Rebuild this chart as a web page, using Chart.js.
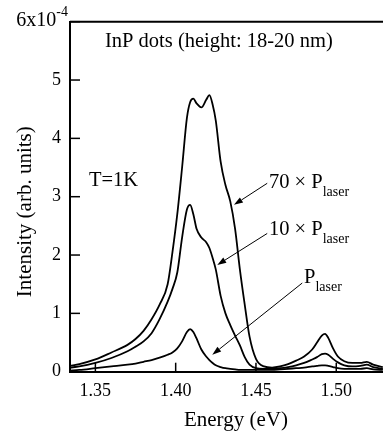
<!DOCTYPE html>
<html>
<head>
<meta charset="utf-8">
<script src="https://cdn.jsdelivr.net/npm/chart.js@4.4.0/dist/chart.umd.min.js"></script>
<style>
  html, body { margin: 0; padding: 0; background: #fff; }
</style>
</head>
<body>
<canvas id="plChart" width="383" height="434"></canvas>
<script>
// Photon energy (eV)
const energy = [1.3342, 1.34, 1.35, 1.36, 1.37, 1.375, 1.38, 1.385, 1.39, 1.395,
    1.398, 1.401, 1.404, 1.407, 1.409, 1.411, 1.413, 1.416, 1.419, 1.421,
    1.423, 1.425, 1.428, 1.431, 1.434, 1.437, 1.44, 1.443, 1.446, 1.45,
    1.455, 1.46, 1.465, 1.47, 1.475, 1.48, 1.485, 1.488, 1.491, 1.493,
    1.495, 1.498, 1.501, 1.505, 1.51, 1.515, 1.519, 1.523, 1.529];

// PL intensity in units of 1e-4
const intensity70x = [0.10, 0.13, 0.21, 0.33, 0.46, 0.56, 0.70, 0.90, 1.15, 1.50,
    2.05, 2.70, 3.50, 4.35, 4.62, 4.68, 4.60, 4.53, 4.66, 4.74,
    4.58, 4.30, 3.60, 3.20, 2.92, 2.45, 1.75, 1.15, 0.60, 0.22,
    0.09, 0.07, 0.09, 0.13, 0.19, 0.26, 0.38, 0.50, 0.62, 0.65,
    0.58, 0.40, 0.26, 0.18, 0.15, 0.15, 0.17, 0.12, 0.08];
const intensity10x = [0.07, 0.09, 0.15, 0.235, 0.35, 0.43, 0.52, 0.66, 0.90, 1.20,
    1.42, 1.70, 2.30, 2.78, 2.86, 2.70, 2.45, 2.30, 2.22, 2.12,
    1.95, 1.75, 1.30, 1.00, 0.80, 0.62, 0.45, 0.25, 0.12, 0.06,
    0.05, 0.05, 0.06, 0.08, 0.11, 0.15, 0.21, 0.25, 0.30, 0.31,
    0.29, 0.22, 0.16, 0.11, 0.09, 0.10, 0.12, 0.08, 0.05];
const intensity1x = [0.02, 0.03, 0.06, 0.09, 0.12, 0.14, 0.17, 0.20, 0.24, 0.29,
    0.33, 0.40, 0.52, 0.68, 0.73, 0.68, 0.57, 0.38, 0.26, 0.20,
    0.15, 0.11, 0.08, 0.06, 0.05, 0.04, 0.03, 0.03, 0.03, 0.03,
    0.03, 0.03, 0.04, 0.05, 0.06, 0.07, 0.09, 0.10, 0.11, 0.11,
    0.10, 0.08, 0.06, 0.05, 0.05, 0.05, 0.06, 0.04, 0.03];

// Axis ticks
const xTickValues = [1.35, 1.40, 1.45, 1.50];
const yTickValues = [0, 1, 2, 3, 4, 5, 6];

// Text labels and arrows, placed in data coordinates
const labels = [
    { e: 1.3560, v: 5.57, text: 'InP dots (height: 18-20 nm)' },
    { e: 1.3460, v: 3.19, text: 'T=1K' },
    { e: 1.4581, v: 3.15, text: '70 \u00d7 P', sub: 'laser' },
    { e: 1.4581, v: 2.35, text: '10 \u00d7 P', sub: 'laser' },
    { e: 1.4799, v: 1.52, text: 'P', sub: 'laser' }
];
const arrows = [
    { from: [1.4570, 3.23], to: [1.4363, 2.86] },
    { from: [1.4570, 2.37], to: [1.4259, 1.83] },
    { from: [1.4788, 1.52], to: [1.4228, 0.29] }
];

const serif = '"Liberation Serif", "Times New Roman", serif';

function points(values) {
    return energy.map((e, i) => ({ x: e, y: values[i] }));
}

function drawArrow(ctx, x1, y1, x2, y2) {
    const ang = Math.atan2(y2 - y1, x2 - x1);
    const len = 9, half = 3;
    ctx.lineWidth = 1;
    ctx.beginPath();
    ctx.moveTo(x1, y1);
    ctx.lineTo(x2 - Math.cos(ang) * len, y2 - Math.sin(ang) * len);
    ctx.stroke();
    ctx.beginPath();
    ctx.moveTo(x2, y2);
    ctx.lineTo(x2 - Math.cos(ang) * len - Math.sin(ang) * half, y2 - Math.sin(ang) * len + Math.cos(ang) * half);
    ctx.lineTo(x2 - Math.cos(ang) * len + Math.sin(ang) * half, y2 - Math.sin(ang) * len - Math.cos(ang) * half);
    ctx.closePath();
    ctx.fill();
}

// Frame, inward ticks, annotations and axis titles
const decorations = {
    id: 'decorations',
    afterDraw(chart) {
        const ctx = chart.ctx;
        const xs = chart.scales.x, ys = chart.scales.y;
        const area = chart.chartArea;
        ctx.save();
        ctx.strokeStyle = '#000';
        ctx.fillStyle = '#000';

        ctx.lineWidth = 2;
        ctx.beginPath();
        ctx.moveTo(area.left, area.top);
        ctx.lineTo(area.right, area.top);
        ctx.stroke();

        ctx.lineWidth = 1.5;
        yTickValues.forEach(v => {
            const py = ys.getPixelForValue(v);
            ctx.beginPath();
            ctx.moveTo(area.left, py);
            ctx.lineTo(area.left + 10, py);
            ctx.stroke();
        });
        xTickValues.forEach(v => {
            const px = xs.getPixelForValue(v);
            ctx.beginPath();
            ctx.moveTo(px, area.bottom);
            ctx.lineTo(px, area.bottom - 9);
            ctx.stroke();
        });

        // top tick label 6x10^-4
        ctx.textBaseline = 'alphabetic';
        ctx.textAlign = 'left';
        ctx.font = '20px ' + serif;
        const base = '6x10';
        const wBase = ctx.measureText(base).width;
        ctx.font = '14px ' + serif;
        const wExp = ctx.measureText('-4').width;
        const right = area.left - 2;
        const topY = ys.getPixelForValue(6);
        ctx.font = '20px ' + serif;
        ctx.fillText(base, right - wExp - wBase, topY + 4);
        ctx.font = '14px ' + serif;
        ctx.fillText('-4', right - wExp, topY - 6);

        labels.forEach(l => {
            const px = xs.getPixelForValue(l.e);
            const py = ys.getPixelForValue(l.v);
            ctx.font = '20.5px ' + serif;
            ctx.fillText(l.text, px, py);
            if (l.sub) {
                const w = ctx.measureText(l.text).width;
                ctx.font = '14px ' + serif;
                ctx.fillText(l.sub, px + w, py + 8);
            }
        });

        arrows.forEach(a => {
            drawArrow(ctx,
                xs.getPixelForValue(a.from[0]), ys.getPixelForValue(a.from[1]),
                xs.getPixelForValue(a.to[0]), ys.getPixelForValue(a.to[1]));
        });

        // axis titles
        ctx.font = '21px ' + serif;
        ctx.textAlign = 'center';
        ctx.textBaseline = 'middle';
        ctx.fillText('Energy (eV)', xs.getPixelForValue(1.4375), area.bottom + 49);
        ctx.translate(25, (area.top + area.bottom) / 2 + 15);
        ctx.rotate(-Math.PI / 2);
        ctx.fillText('Intensity (arb. units)', 0, 0);
        ctx.restore();
    }
};

document.addEventListener('DOMContentLoaded', function() {
    Chart.defaults.font.family = serif;
    Chart.defaults.color = '#000';

    const lineStyle = {
        borderColor: '#000',
        borderWidth: 1.8,
        pointRadius: 0,
        cubicInterpolationMode: 'monotone',
        fill: false
    };

    new Chart(document.getElementById('plChart'), {
        type: 'line',
        data: {
            datasets: [
                { label: '70 x P_laser', data: points(intensity70x), ...lineStyle },
                { label: '10 x P_laser', data: points(intensity10x), ...lineStyle },
                { label: 'P_laser', data: points(intensity1x), ...lineStyle }
            ]
        },
        options: {
            responsive: false,
            animation: false,
            layout: {
                padding: { top: 21.7, right: 0, left: 0, bottom: 0 }
            },
            plugins: {
                legend: { display: false },
                tooltip: { enabled: false }
            },
            scales: {
                x: {
                    type: 'linear',
                    min: 1.3342,
                    max: 1.5291,
                    afterFit: s => { s.height = 62.3; },
                    afterBuildTicks: s => { s.ticks = xTickValues.map(v => ({ value: v })); },
                    grid: { drawOnChartArea: false, drawTicks: false },
                    border: { color: '#000', width: 2 },
                    ticks: {
                        padding: 9,
                        font: { size: 18 },
                        callback: v => v.toFixed(2)
                    }
                },
                y: {
                    type: 'linear',
                    min: 0,
                    max: 6,
                    afterFit: s => { s.width = 70; },
                    afterBuildTicks: s => { s.ticks = yTickValues.map(v => ({ value: v })); },
                    grid: { drawOnChartArea: false, drawTicks: false },
                    border: { color: '#000', width: 2 },
                    ticks: {
                        padding: 9,
                        font: { size: 18 },
                        callback: v => (v === 6 ? '' : String(v))
                    }
                }
            }
        },
        plugins: [decorations]
    });
});
</script>
</body>
</html>
